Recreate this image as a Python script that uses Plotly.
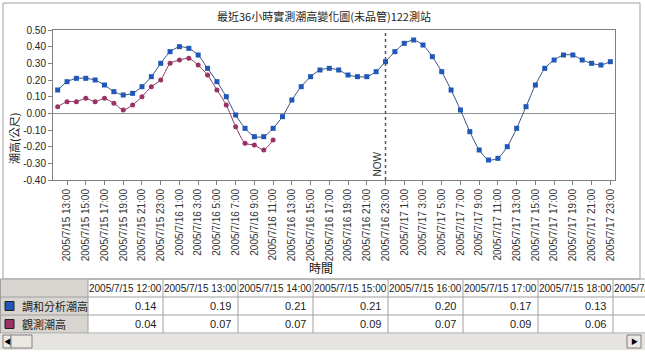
import datetime as dt
import plotly.graph_objects as go

# ---------------- data ----------------
start = dt.datetime(2005, 7, 15, 12)
times = [start + dt.timedelta(hours=h) for h in range(60)]
time_labels = [f"{t.year}/{t.month}/{t.day} {t.hour}:00" for t in times]

analysis_name = "調和分析潮高"
observed_name = "觀測潮高"

analysis = [0.14, 0.19, 0.21, 0.21, 0.20, 0.17, 0.13, 0.11, 0.12, 0.16,
            0.22, 0.30, 0.37, 0.40, 0.39, 0.35, 0.27, 0.19, 0.10, -0.01,
            -0.09, -0.14, -0.14, -0.09, -0.02, 0.08, 0.16, 0.22, 0.26, 0.27,
            0.26, 0.23, 0.22, 0.22, 0.25, 0.31, 0.37, 0.42, 0.44, 0.41,
            0.34, 0.25, 0.14, 0.02, -0.11, -0.22, -0.28, -0.27, -0.20, -0.09,
            0.04, 0.17, 0.27, 0.32, 0.35, 0.35, 0.32, 0.30, 0.29, 0.31]

observed = [0.04, 0.07, 0.07, 0.09, 0.07, 0.09, 0.06, 0.02, 0.05, 0.10,
            0.16, 0.20, 0.30, 0.32, 0.33, 0.29, 0.23, 0.14, 0.05, -0.08,
            -0.18, -0.19, -0.22, -0.16]

now_index = 35
tick_index = list(range(1, 60, 2))
tick_text = [time_labels[i] for i in tick_index]
y_ticks = [-0.40, -0.30, -0.20, -0.10, 0.00, 0.10, 0.20, 0.30, 0.40, 0.50]
table_cols = 8

# ---------------- style ----------------
W, H = 645, 352
FONT = "Liberation Sans, Arial, Noto Sans CJK TC, sans-serif"
CJK = "Noto Sans CJK TC, Liberation Sans, sans-serif"
BLUE_M = "#1f58b8"
BLUE_L = "#34507e"
RED_M = "#993366"
RED_L = "#8a3a60"
GRID = "#a0a0a0"


def px(x):
    return x / W


def py(y):
    return 1 - y / H


def text_ann(x, y, text, size=10, family=FONT, xanchor="center", color="#222", angle=0):
    return dict(xref="paper", yref="paper", x=px(x), y=py(y), text=text, showarrow=False,
                xanchor=xanchor, yanchor="middle", textangle=angle,
                font=dict(family=family, size=size, color=color))


fig = go.Figure()
fig.add_trace(go.Scatter(
    x=list(range(len(analysis))), y=analysis, name=analysis_name,
    mode="lines+markers", line=dict(color=BLUE_L, width=1, shape="spline", smoothing=0.6),
    marker=dict(symbol="square", size=5, color=BLUE_M)))
fig.add_trace(go.Scatter(
    x=list(range(len(observed))), y=observed, name=observed_name,
    mode="lines+markers", line=dict(color=RED_L, width=1, shape="spline", smoothing=0.6),
    marker=dict(symbol="circle", size=5, color=RED_M)))

fig.update_layout(
    width=W, height=H, margin=dict(l=0, r=0, t=0, b=0),
    paper_bgcolor="white", plot_bgcolor="white", showlegend=False,
    font=dict(family=FONT, size=10, color="#222"),
    xaxis=dict(domain=[px(53), px(615)], range=[-0.5, 59.5],
               tickmode="array", tickvals=tick_index, ticktext=tick_text,
               tickangle=-90, ticks="outside", ticklen=4, tickcolor="#808080",
               showline=True, linecolor="#808080", mirror=True, showgrid=False,
               zeroline=False, tickfont=dict(size=10, color="#333"), automargin=False),
    yaxis=dict(domain=[py(180), py(30)], range=[-0.40, 0.50],
               tickmode="array", tickvals=y_ticks,
               ticktext=[f"{v:.2f}" for v in y_ticks],
               ticks="outside", ticklen=4, tickcolor="#808080",
               showline=True, linecolor="#808080", mirror=True, showgrid=False,
               zeroline=True, zerolinecolor="#909090", zerolinewidth=1,
               tickfont=dict(size=10, color="#222"), automargin=False),
)

shapes = []
annotations = []

# NOW line
shapes.append(dict(type="line", xref="x", yref="paper", x0=now_index, x1=now_index,
                   y0=py(180), y1=py(30), line=dict(color="#555", width=1.5, dash="dot")))
annotations.append(dict(xref="x", yref="paper", x=now_index, y=py(179), text="NOW",
                        textangle=-90, showarrow=False, xanchor="right", yanchor="bottom",
                        xshift=-1, font=dict(size=10, color="#333")))

# chart border
shapes.append(dict(type="rect", xref="paper", yref="paper", x0=px(3), x1=px(640),
                   y0=py(279), y1=py(3), line=dict(color=GRID, width=1)))

# title & axis titles
annotations.append(text_ann(324, 16, "最近36小時實測潮高變化圖(未品管)122測站", size=11, family=CJK))
annotations.append(text_ann(14, 139, "潮高(公尺)", size=11, family=CJK, angle=-90))
annotations.append(text_ann(321, 267, "時間", size=12, family=CJK, color="#111"))

# ---------------- data table ----------------
LABEL_W = 88
COL_W = 75
rows_y = [279, 297, 315, 333]
shapes.append(dict(type="rect", xref="paper", yref="paper", x0=px(0), x1=px(LABEL_W),
                   y0=py(333), y1=py(279), fillcolor="#d8d5d0", line=dict(width=0)))
for yy in rows_y:
    shapes.append(dict(type="line", xref="paper", yref="paper", x0=px(0), x1=px(W),
                       y0=py(yy), y1=py(yy), line=dict(color=GRID, width=1)))
for c in range(table_cols + 1):
    xx = LABEL_W + c * COL_W
    shapes.append(dict(type="line", xref="paper", yref="paper", x0=px(xx), x1=px(xx),
                       y0=py(333), y1=py(279), line=dict(color=GRID, width=1)))
shapes.append(dict(type="line", xref="paper", yref="paper", x0=px(0.5), x1=px(0.5),
                   y0=py(333), y1=py(279), line=dict(color=GRID, width=1)))

series_rows = [(analysis_name, analysis, BLUE_M), (observed_name, observed, RED_M)]
for c in range(table_cols):
    x_left = LABEL_W + c * COL_W
    annotations.append(text_ann(x_left + COL_W / 2, 288, time_labels[c], size=10))
    if x_left + COL_W > W:
        continue  # values of this column lie beyond the visible area
    for r, (nm, vals, col) in enumerate(series_rows):
        annotations.append(text_ann(x_left + COL_W - 5, 306 + 18 * r, f"{vals[c]:.2f}",
                                    size=11, xanchor="right"))

for r, (nm, vals, col) in enumerate(series_rows):
    yc = 306 + 18 * r
    shapes.append(dict(type="rect", xref="paper", yref="paper", x0=px(5), x1=px(14),
                       y0=py(yc + 4.5), y1=py(yc - 4.5), fillcolor=col,
                       line=dict(color="#202020", width=1)))
    annotations.append(text_ann(20, yc, nm, size=11, family=CJK, xanchor="left"))

# horizontal scrollbar
shapes.append(dict(type="rect", xref="paper", yref="paper", x0=px(0), x1=px(W),
                   y0=py(350), y1=py(334), fillcolor="#e6e4e0", line=dict(width=0)))
for (x0, x1) in [(3, 11), (11, 32), (627, 641)]:
    shapes.append(dict(type="rect", xref="paper", yref="paper", x0=px(x0), x1=px(x1),
                       y0=py(348), y1=py(335), fillcolor="#ece9e4",
                       line=dict(color="#808080", width=1)))
annotations.append(text_ann(7, 341.5, "◀", size=7, color="#000"))
annotations.append(text_ann(634, 341.5, "▶", size=7, color="#000"))

fig.update_layout(shapes=shapes, annotations=annotations)
fig.write_html("out.html")
